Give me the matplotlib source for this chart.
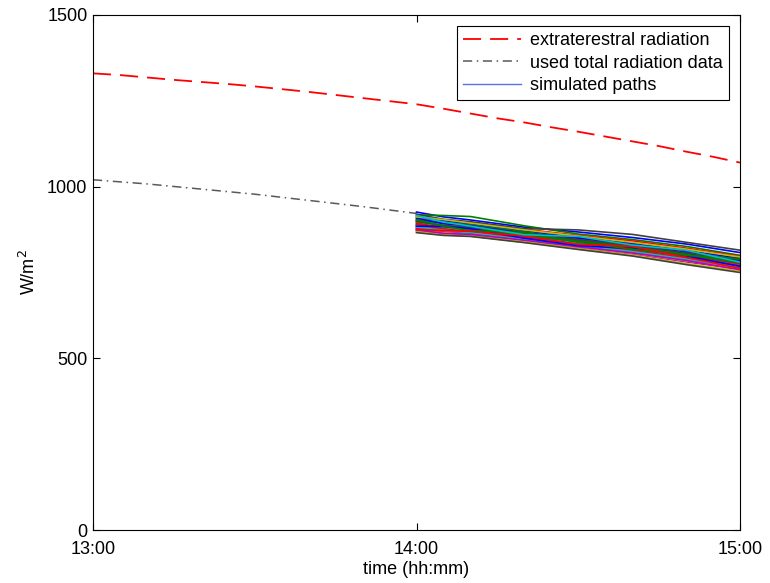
import matplotlib.pyplot as plt
import numpy as np

plt.rcParams["font.family"] = ["Liberation Sans", "DejaVu Sans"]

# minutes after 13:00
extra_t = [0, 5, 10, 15, 20, 25, 30, 35, 40, 45, 50, 55, 60,
           65, 70, 75, 80, 85, 90, 95, 100, 105, 110, 115, 120]
extra_w = [1330, 1325, 1318, 1311, 1305, 1299, 1292, 1284, 1276, 1267, 1258, 1249, 1240,
           1227, 1213, 1199, 1187, 1173, 1160, 1146, 1132, 1118, 1102, 1087, 1070]

used_t = [0, 10, 20, 30, 40, 50, 60]
used_w = [1020, 1008, 993, 978, 960, 942, 922]

sim_t = [60, 65, 70, 80, 90, 100, 110, 120]
sim_paths = [
    [926, 912, 903, 882, 868, 852, 833, 808],
    [918, 916, 913, 886, 862, 846, 826, 800],
    [910, 899, 895, 876, 858, 842, 821, 797],
    [905, 898, 890, 870, 853, 835, 812, 790],
    [900, 889, 884, 866, 849, 830, 809, 786],
    [896, 890, 880, 862, 847, 826, 805, 782],
    [892, 881, 876, 860, 843, 822, 800, 779],
    [888, 882, 872, 855, 838, 820, 797, 776],
    [884, 874, 869, 850, 834, 816, 793, 772],
    [880, 875, 866, 846, 830, 812, 790, 768],
    [876, 866, 862, 843, 826, 808, 786, 764],
    [872, 866, 858, 840, 822, 804, 781, 760],
    [868, 860, 856, 838, 819, 800, 776, 754],
    [920, 905, 898, 878, 874, 861, 838, 815],
    [914, 901, 892, 872, 852, 836, 814, 792],
    [902, 895, 888, 868, 845, 828, 806, 783],
    [894, 880, 874, 857, 840, 818, 798, 774],
    [886, 879, 870, 852, 836, 814, 795, 770],
    [878, 868, 864, 848, 828, 810, 788, 766],
    [870, 866, 860, 841, 824, 806, 784, 762],
    [866, 858, 855, 837, 817, 798, 773, 750],
    [908, 892, 886, 864, 850, 832, 808, 784],
    [898, 886, 878, 858, 841, 824, 802, 778],
    [890, 877, 868, 852, 832, 815, 792, 770],
    [882, 873, 866, 846, 829, 811, 789, 765],
    [874, 864, 861, 844, 825, 807, 785, 758],
    [912, 904, 894, 874, 856, 838, 818, 795],
    [900, 887, 882, 864, 846, 828, 807, 788],
    [885, 884, 878, 850, 828, 820, 798, 768],
    [904, 885, 872, 866, 838, 818, 800, 790],
    [876, 872, 870, 856, 832, 826, 794, 762],
    [916, 897, 885, 860, 855, 830, 815, 780],
]

x_ticks = [0, 60, 120]
x_labels = ["13:00", "14:00", "15:00"]
y_ticks = [0, 500, 1000, 1500]

matlab_colors = [(0, 0, 1), (0, 0.5, 0), (1, 0, 0), (0, 0.75, 0.75),
                 (0.75, 0, 0.75), (0.75, 0.75, 0), (0.25, 0.25, 0.25)]

fig = plt.figure(figsize=(7.7, 5.83), dpi=100)
ax = fig.add_axes([0.1208, 0.0909, 0.8403, 0.8834])

ax.plot(extra_t, extra_w, color="red", lw=1.3, dashes=(10, 5),
        label="extraterestral radiation")
ax.plot(used_t, used_w, color=(0.35, 0.35, 0.35), lw=1.1, dashes=(6, 3, 1, 3),
        label="used total radiation data")

for i, path in enumerate(sim_paths):
    ax.plot(sim_t, path, color=matlab_colors[i % len(matlab_colors)], lw=1.2,
            label="simulated paths" if i == 0 else None)

ax.set_xlim(0, 120)
ax.set_ylim(0, 1500)
ax.set_xticks(x_ticks, labels=x_labels)
ax.set_yticks(y_ticks)
ax.tick_params(direction="in", top=True, right=True, labelsize=13, length=5)
ax.tick_params(axis="x", pad=8)
ax.tick_params(axis="y", pad=4)
ax.set_xlabel("time (hh:mm)", fontsize=13, labelpad=2)
ax.set_ylabel("W/m$^2$", fontsize=13, labelpad=6)

leg = ax.legend(loc="upper right", fontsize=13, handlelength=3.2, handletextpad=0.5,
                labelspacing=0.3, fancybox=False, edgecolor="k", framealpha=1,
                borderaxespad=0.6, borderpad=0.35)
leg.get_frame().set_linewidth(0.8)
leg.legend_handles[2].set_color((0.35, 0.45, 0.85))
leg.legend_handles[2].set_linewidth(1.0)

fig.savefig("out.png", dpi=100)
